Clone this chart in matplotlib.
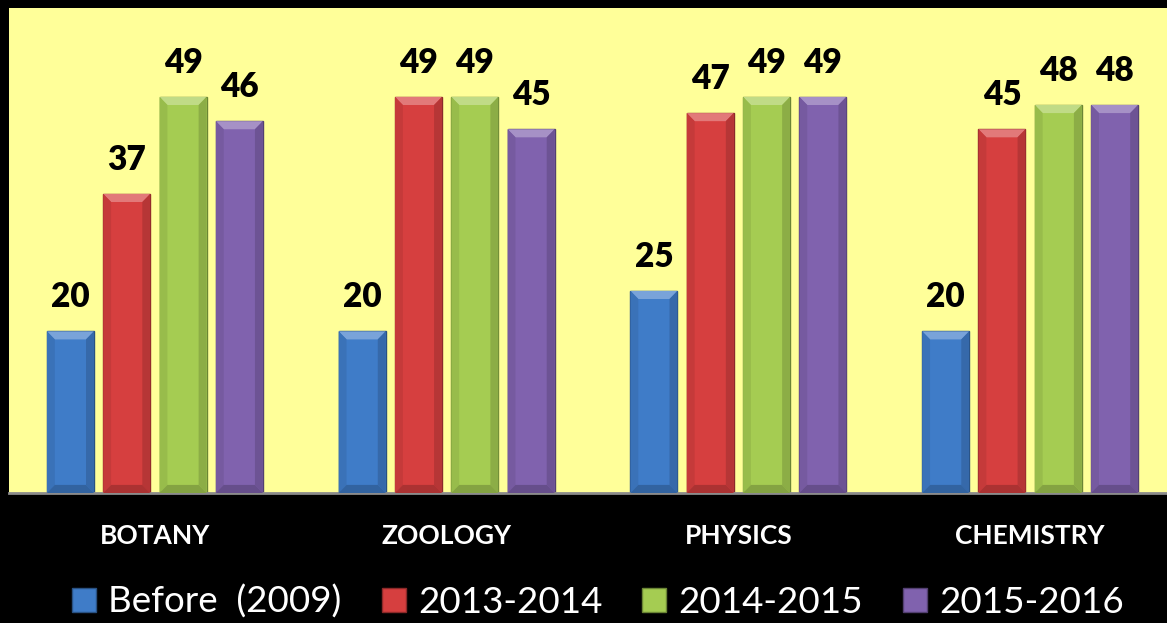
import matplotlib.pyplot as plt
from matplotlib.patches import Patch, Polygon
from matplotlib.colors import to_rgb
import numpy as np

categories = ['BOTANY', 'ZOOLOGY', 'PHYSICS', 'CHEMISTRY']
series_names = ['Before  (2009)', '2013-2014', '2014-2015', '2015-2016']
before_2009 = [20, 20, 25, 20]
y2013_2014 = [37, 49, 47, 45]
y2014_2015 = [49, 49, 49, 48]
y2015_2016 = [46, 45, 49, 48]
series_values = [before_2009, y2013_2014, y2014_2015, y2015_2016]

colors = ['#3f7cc8', '#d63f3f', '#a5cc52', '#8062ae']

plt.rcParams['font.family'] = ['Lato', 'DejaVu Sans']


def shade(c, f):
    r, g, b = to_rgb(c)
    if f > 0:
        return (r + (1 - r) * f, g + (1 - g) * f, b + (1 - b) * f)
    return (r * (1 + f), g * (1 + f), b * (1 + f))


fig = plt.figure(figsize=(11.67, 6.23), dpi=100, facecolor='black')
W, H = 1167, 623
ax = fig.add_axes([9 / W, (H - 493) / H, (1176 - 9) / W, (493 - 8) / H])
ax.set_facecolor('#ffff99')
ax.set_xlim(-0.5, 3.5)
ax.set_ylim(0, 60)

x = np.arange(len(categories))
pitch = 0.193
width = 0.161
dx = 0.027
dy = 1.0

for i, (vals, col) in enumerate(zip(series_values, colors)):
    bars = ax.bar(x + (i - 1.5) * pitch, vals, width, color=col,
                  edgecolor=shade(col, -0.35), linewidth=1.0, zorder=2)
    for b, v in zip(bars, vals):
        x0, x1, h = b.get_x(), b.get_x() + b.get_width(), b.get_height()
        # bevel: top light, sides slightly dark, bottom dark
        ax.add_patch(Polygon([(x0, h), (x1, h), (x1 - dx, h - dy), (x0 + dx, h - dy)],
                             closed=True, color=shade(col, 0.3), lw=0, zorder=3))
        ax.add_patch(Polygon([(x0, h), (x0 + dx, h - dy), (x0 + dx, dy), (x0, 0)],
                             closed=True, color=shade(col, -0.08), lw=0, zorder=3))
        ax.add_patch(Polygon([(x1, h), (x1 - dx, h - dy), (x1 - dx, dy), (x1, 0)],
                             closed=True, color=shade(col, -0.15), lw=0, zorder=3))
        ax.add_patch(Polygon([(x0, 0), (x1, 0), (x1 - dx, dy), (x0 + dx, dy)],
                             closed=True, color=shade(col, -0.2), lw=0, zorder=3))
        ax.annotate(f'{v}', (b.get_x() + b.get_width() / 2, h), xytext=(0, 34),
                    textcoords='offset pixels', ha='center', va='center',
                    fontsize=24, fontweight='heavy', color='black', zorder=4)

for s in ['top', 'right', 'left']:
    ax.spines[s].set_visible(False)
ax.spines['bottom'].set_color('#8c8c8c')
ax.spines['bottom'].set_linewidth(2)
ax.set_yticks([])
ax.set_xticks(x, categories)
ax.tick_params(axis='x', length=0, pad=22, labelsize=19, labelcolor='white')
for lbl in ax.get_xticklabels():
    lbl.set_fontweight('bold')

handles = [Patch(facecolor=c, edgecolor=shade(c, -0.35)) for c in colors]
fig.legend(handles, series_names, loc='center', bbox_to_anchor=(0.5125, 21 / H),
           ncol=4, frameon=False, fontsize=26.5, labelcolor='white',
           handlelength=0.65, handleheight=0.65, handletextpad=0.33,
           columnspacing=1.09, borderaxespad=0)

fig.savefig('out.png', dpi=100, facecolor='black')
